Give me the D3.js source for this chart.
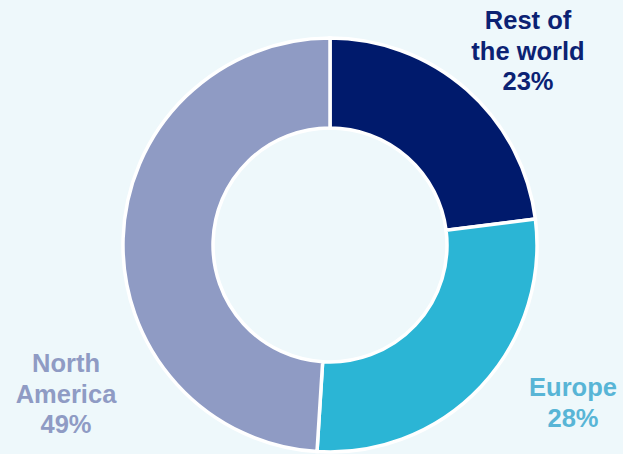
<!DOCTYPE html>
<html>
<head>
<meta charset="utf-8">
<script src="https://cdn.jsdelivr.net/npm/d3@7"></script>
<style>
  html, body { margin: 0; padding: 0; background: #eef8fb; }
  svg { display: block; }
  text { font-family: Arial, "Liberation Sans", sans-serif; font-weight: bold; }
</style>
</head>
<body>
<div id="chart"></div>
<script>
const regions = ["Rest of the world", "Europe", "North America"];
const shares = [23, 28, 49];
const labelLines = [["Rest of", "the world", "23%"], ["Europe", "28%"], ["North", "America", "49%"]];
const sliceColors = ["#001a6c", "#2bb5d5", "#8f9bc4"];
const labelColors = ["#0b2273", "#58b5d6", "#8f9bc4"];

const width = 623, height = 454;
const cx = 330, cy = 245, outerR = 207, innerR = 117;

const svg = d3.select("#chart")
    .append("svg")
    .attr("width", width)
    .attr("height", height);

const data = regions.map((r, i) => ({region: r, value: shares[i], lines: labelLines[i]}));

const pie = d3.pie()
    .sort(null)
    .value(d => d.value);

const arc = d3.arc()
    .innerRadius(innerR)
    .outerRadius(outerR);

const g = svg.append("g")
    .attr("transform", `translate(${cx}, ${cy})`);

g.selectAll(".slice")
    .data(pie(data))
    .enter()
    .append("path")
    .attr("class", "slice")
    .attr("d", arc)
    .attr("fill", (d, i) => sliceColors[i])
    .attr("stroke", "#ffffff")
    .attr("stroke-width", 3.5);

// label anchors (centre x, first baseline) placed outside the ring
const labelPos = [[528, 29], [573, 396], [66, 372]];
const lineGap = 30.5;

svg.selectAll(".label")
    .data(data)
    .enter()
    .append("text")
    .attr("class", "label")
    .attr("text-anchor", "middle")
    .attr("font-size", "25.5px")
    .attr("fill", (d, i) => labelColors[i])
    .each(function (d, i) {
        d3.select(this).selectAll("tspan")
            .data(d.lines)
            .enter()
            .append("tspan")
            .attr("x", labelPos[i][0])
            .attr("y", (l, j) => labelPos[i][1] + j * lineGap)
            .text(l => l);
    });
</script>
</body>
</html>
